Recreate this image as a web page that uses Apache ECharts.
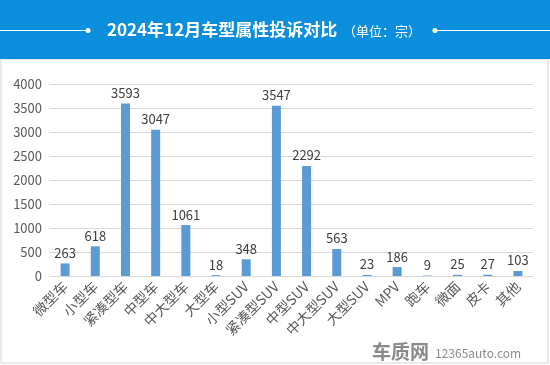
<!DOCTYPE html>
<html><head><meta charset="utf-8">
<script src="https://cdn.jsdelivr.net/npm/echarts@6/dist/echarts.min.js"></script>
<style>html,body{margin:0;padding:0;background:#fff}#c{width:550px;height:365px}</style>
</head><body><div id="c"></div>
<script>
const categories = ['微型车','小型车','紧凑型车','中型车','中大型车','大型车','小型SUV','紧凑型SUV','中型SUV','中大型SUV','大型SUV','MPV','跑车','微面','皮卡','其他'];
const values = [263,618,3593,3047,1061,18,348,3547,2292,563,23,186,9,25,27,103];
const yTicks = [0,500,1000,1500,2000,2500,3000,3500,4000];
const titleText = '2024年12月车型属性投诉对比';
const unitText = '（单位：宗）';

const chart = echarts.init(document.getElementById('c'), null, {renderer:'canvas'});
const font = '"Noto Sans CJK SC","Microsoft YaHei",sans-serif';
chart.setOption({
  animation:false,
  backgroundColor:'#fff',
  textStyle:{fontFamily:font},
  graphic:[
    {type:'rect', shape:{x:1,y:59,width:547,height:304}, style:{fill:'#fff',stroke:'#d4d4d4',lineWidth:1}, z:-10},
    {type:'rect', shape:{x:0,y:0,width:550,height:59}, style:{fill:'#0b8fdd'}, z:1},
    {type:'line', shape:{x1:0,y1:30.5,x2:88,y2:30.5}, style:{stroke:'#fff',lineWidth:1}, z:2},
    {type:'circle', shape:{cx:88,cy:30.5,r:2.5}, style:{fill:'#fff'}, z:2},
    {type:'line', shape:{x1:435,y1:30.5,x2:550,y2:30.5}, style:{stroke:'#fff',lineWidth:1}, z:2},
    {type:'circle', shape:{cx:435,cy:30.5,r:2.5}, style:{fill:'#fff'}, z:2},
    {type:'text', x:107, y:30, style:{text:titleText, fill:'#fff', font:'bold 17px '+font, verticalAlign:'middle', textAlign:'left'}, z:3},
    {type:'text', x:343, y:31, style:{text:unitText, fill:'#fff', font:'13px '+font, verticalAlign:'middle', textAlign:'left'}, z:3},
    {type:'text', x:372, y:352, style:{text:'车质网', fill:'#8a8a8a', font:'bold 19px '+font, verticalAlign:'middle', textAlign:'left'}, z:3},
    {type:'text', x:435, y:353, style:{text:'12365auto.com', fill:'#8a8a8a', font:'12px '+font, verticalAlign:'middle', textAlign:'left'}, z:3}
  ],
  grid:{left:50,right:17,top:84,bottom:89,containLabel:false},
  xAxis:{
    type:'category', data:categories,
    axisLine:{lineStyle:{color:'#d9d9d9'}},
    axisTick:{show:false},
    axisLabel:{rotate:45, color:'#595959', fontSize:14, interval:0, margin:8, fontFamily:font}
  },
  yAxis:{
    type:'value', min:yTicks[0], max:yTicks[yTicks.length-1], interval:500,
    axisLine:{show:false}, axisTick:{show:false},
    splitLine:{lineStyle:{color:'#d9d9d9'}},
    axisLabel:{color:'#595959', fontSize:13, margin:8, fontFamily:font, formatter:v=>String(v)}
  },
  series:[{
    type:'bar', data:values, barWidth:9,
    itemStyle:{color:'#5b9bd5'},
    label:{show:true, position:'top', color:'#404040', fontSize:13, distance:4, fontFamily:font}
  }]
});
</script></body></html>
